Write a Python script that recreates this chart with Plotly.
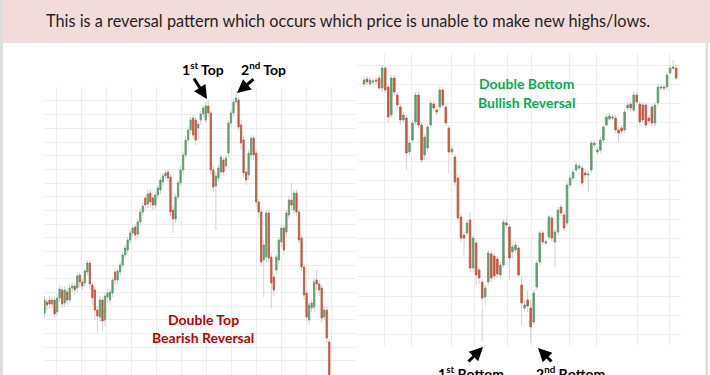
import plotly.graph_objects as go

# ---------------- Left chart: Double Top (price units) ----------------
left_open = [87, 98, 100, 96, 100, 88, 102, 110, 97, 108, 100, 112, 114, 112, 125, 118, 117, 128, 137, 115,
             110, 90, 83, 100, 80, 103, 100, 107, 128, 120, 128, 135, 145, 150, 160, 167, 173, 166, 178, 188,
             202, 196, 207, 202, 195, 205, 210, 218, 224, 228, 223, 190, 181, 203, 217, 230, 245, 260, 270, 282,
             280, 272, 280, 286, 280, 294, 287, 230, 214, 222, 228, 240, 234, 247, 277, 287, 298, 300, 275, 260,
             228, 225, 245, 262, 247, 198, 188, 140, 143, 187, 143, 123, 130, 140, 158, 172, 168, 185, 200, 190,
             207, 188, 162, 133, 107, 80, 92, 93, 120, 116, 112, 83, 90, 58]
left_high = [104, 102, 104, 103, 103, 106, 115, 113, 114, 112, 116, 118, 117, 128, 128, 121, 132, 140, 139, 118,
             113, 94, 104, 103, 108, 111, 111, 123, 132, 132, 138, 148, 156, 163, 170, 175, 176, 181, 192, 197,
             205, 210, 211, 205, 208, 215, 223, 227, 230, 231, 226, 194, 206, 220, 234, 248, 264, 273, 283, 285,
             283, 279, 289, 295, 298, 300, 290, 234, 228, 235, 246, 243, 245, 280, 290, 301, 309, 303, 280, 264,
             232, 250, 265, 265, 250, 201, 191, 160, 190, 190, 147, 127, 146, 163, 175, 175, 190, 204, 217, 210,
             210, 191, 165, 136, 110, 99, 100, 122, 130, 120, 115, 94, 93, 61]
left_low = [82, 90, 91, 92, 82, 84, 98, 92, 93, 95, 97, 108, 105, 108, 113, 110, 113, 124, 110, 95,
            80, 67, 78, 70, 74, 97, 95, 103, 115, 116, 124, 132, 142, 147, 156, 163, 160, 162, 174, 184,
            190, 192, 194, 190, 191, 201, 206, 214, 220, 218, 184, 167, 177, 200, 214, 226, 242, 256, 266, 261,
            255, 260, 275, 282, 277, 283, 225, 208, 170, 218, 224, 224, 230, 243, 273, 283, 295, 269, 250, 222,
            215, 220, 240, 240, 194, 182, 134, 103, 138, 138, 92, 104, 125, 136, 153, 145, 163, 181, 190, 186,
            184, 156, 129, 100, 78, 75, 88, 88, 110, 104, 77, 80, 57, 20]
left_close = [100, 95, 96, 100, 86, 102, 111, 96, 110, 100, 112, 114, 110, 124, 118, 114, 129, 137, 116, 102,
              90, 84, 100, 79, 104, 107, 108, 120, 120, 129, 135, 145, 152, 160, 167, 172, 165, 178, 188, 194,
              195, 206, 198, 195, 205, 212, 220, 224, 227, 222, 188, 181, 203, 217, 230, 245, 260, 270, 280, 265,
              260, 276, 286, 292, 294, 287, 230, 213, 224, 232, 243, 228, 242, 277, 287, 298, 302, 273, 257, 227,
              220, 247, 262, 245, 198, 188, 138, 155, 187, 142, 117, 110, 143, 160, 172, 150, 187, 200, 195, 207,
              188, 160, 133, 105, 83, 95, 97, 118, 116, 110, 82, 90, 62, 25]
left_idx = list(range(len(left_close)))

# ---------------- Right chart: Double Bottom (price units) ----------------
right_open = [316, 321, 316, 318, 320, 322, 312, 332, 313, 285, 322, 305, 293, 280, 282, 248, 260, 278, 305, 275,
              245, 252, 275, 296, 290, 293, 310, 293, 272, 248, 243, 222, 183, 165, 167, 180, 132, 157, 130, 118,
              103, 118, 146, 144, 141, 125, 135, 177, 173, 148, 150, 152, 115, 92, 100, 92, 78, 113, 138, 167,
              157, 163, 182, 158, 168, 193, 185, 177, 215, 222, 230, 232, 232, 227, 225, 230, 255, 248, 250, 260,
              275, 281, 282, 282, 270, 272, 270, 292, 296, 290, 305, 296, 295, 295, 282, 293, 277, 297, 312, 313,
              313, 327, 333, 332]
right_high = [323, 324, 323, 322, 323, 325, 335, 334, 316, 325, 325, 308, 296, 288, 285, 260, 280, 308, 308, 278,
              266, 276, 300, 299, 292, 313, 313, 296, 275, 254, 246, 225, 186, 168, 180, 188, 165, 160, 133, 121,
              115, 150, 149, 147, 144, 138, 181, 182, 176, 156, 158, 155, 123, 100, 110, 100, 110, 140, 170, 170,
              160, 186, 185, 171, 193, 196, 188, 218, 225, 231, 238, 237, 235, 230, 229, 260, 260, 253, 263, 276,
              286, 287, 286, 285, 273, 275, 291, 298, 299, 308, 308, 299, 298, 298, 285, 296, 298, 316, 316, 316,
              328, 335, 340, 335]
right_low = [313, 315, 314, 316, 316, 310, 308, 307, 277, 282, 304, 290, 275, 277, 230, 244, 257, 275, 272, 237,
             240, 248, 272, 290, 285, 290, 292, 274, 227, 245, 215, 179, 158, 145, 164, 128, 128, 115, 116, 58,
             95, 115, 118, 120, 122, 122, 132, 172, 120, 142, 147, 122, 75, 88, 88, 57, 75, 110, 135, 155,
             155, 160, 158, 133, 165, 184, 169, 174, 212, 220, 228, 230, 214, 222, 208, 227, 253, 245, 247, 257,
             273, 279, 280, 267, 258, 266, 267, 290, 289, 288, 295, 275, 277, 272, 276, 274, 274, 294, 310, 309,
             310, 325, 330, 320]
right_close = [320, 318, 320, 319, 319, 312, 332, 310, 283, 322, 308, 295, 280, 285, 247, 257, 277, 305, 275, 240,
               263, 273, 297, 292, 288, 310, 295, 277, 248, 251, 218, 182, 162, 162, 177, 132, 162, 125, 122, 102,
               112, 147, 122, 124, 126, 135, 178, 175, 142, 153, 155, 125, 97, 95, 94, 73, 107, 137, 167, 158,
               158, 183, 162, 168, 190, 187, 172, 215, 222, 228, 235, 234, 217, 225, 226, 257, 257, 250, 260, 273,
               283, 284, 283, 270, 267, 269, 288, 295, 292, 305, 298, 278, 280, 275, 279, 277, 295, 313, 313, 312,
               325, 332, 332, 322]
right_idx = list(range(len(right_close)))
right_grid_ticks = [6.6, 15.8, 29.0, 36.6, 47.5, 55.4, 67.7, 76.6, 90.1, 100.7]

header_text = "This is a reversal pattern which occurs which price is unable to make new highs/lows."

GREEN = "#5f9e6e"
RED = "#c9553f"
WICK = "#d2d2d2"
GRID = "#eeeeee"

W, H = 710, 375


def px_x(px):
    return px / W


def px_y(py):
    return 1 - py / H


fig = go.Figure()


def add_candles(xs, o, h, l, c, xa, ya):
    # wicks (light grey)
    fig.add_trace(go.Candlestick(
        x=xs, open=o, high=h, low=l, close=c, xaxis=xa, yaxis=ya,
        increasing=dict(line=dict(color=WICK, width=1), fillcolor=WICK),
        decreasing=dict(line=dict(color=WICK, width=1), fillcolor=WICK),
        hoverinfo="skip", showlegend=False))
    # coloured bodies
    bt = [max(a, b) for a, b in zip(o, c)]
    bb = [min(a, b) for a, b in zip(o, c)]
    fig.add_trace(go.Candlestick(
        x=xs, open=o, high=bt, low=bb, close=c, xaxis=xa, yaxis=ya,
        increasing=dict(line=dict(color=GREEN, width=0.8), fillcolor=GREEN),
        decreasing=dict(line=dict(color=RED, width=0.8), fillcolor=RED),
        showlegend=False))


add_candles(left_idx, left_open, left_high, left_low, left_close, "x", "y")
add_candles(right_idx, right_open, right_high, right_low, right_close, "x2", "y2")

ax_common = dict(showticklabels=False, zeroline=False, showline=False, ticks="",
                 gridcolor=GRID, gridwidth=1, fixedrange=True)

# left axes: plot area x 44..356 px, y 87..375 px
ls = 2.52
fig.update_layout(
    xaxis=dict(domain=[px_x(44), px_x(356)], range=[-0.2, (356 - 44) / ls - 0.2],
               tick0=(56 - 44) / ls - 0.2, dtick=25 / ls, rangeslider=dict(visible=False), **ax_common),
    yaxis=dict(domain=[0, px_y(87)], range=[25, 313], tick0=312.7, dtick=13.68, **ax_common),
    xaxis2=dict(domain=[px_x(358), px_x(681)], range=[-1.98, 104.6], tickmode="array",
                tickvals=right_grid_ticks, rangeslider=dict(visible=False), anchor="y2", **ax_common),
    yaxis2=dict(domain=[px_y(346), px_y(53)], range=[54, 347], tick0=315.7, dtick=19.25,
                anchor="x2", **ax_common),
)

shapes = [
    dict(type="rect", xref="paper", yref="paper", x0=0, x1=1, y0=px_y(43), y1=1,
         fillcolor="#f2dcdb", line=dict(width=0), layer="below"),
    dict(type="rect", xref="paper", yref="paper", x0=0, x1=px_x(3), y0=0, y1=1,
         fillcolor="#dedede", line=dict(width=0)),
    dict(type="rect", xref="paper", yref="paper", x0=px_x(705.5), x1=px_x(708), y0=0, y1=px_y(43),
         fillcolor="#dcdcdc", line=dict(width=0)),
]

FONT = "Lato, 'Open Sans', Arial, sans-serif"
ann = []
ann.append(dict(text=header_text, x=px_x(347.5), y=px_y(20), xref="paper", yref="paper",
                xanchor="center", yanchor="middle",
                showarrow=False, font=dict(family=FONT, size=16.3, color="#1f1f1f")))


def label(text, cx, cy, color, size=14):
    ann.append(dict(text="<b>" + text + "</b>", x=px_x(cx), y=px_y(cy), xref="paper", yref="paper",
                    xanchor="center", yanchor="middle",
                    showarrow=False, font=dict(family=FONT, size=size, color=color)))


def arrow(hx, hy, tx, ty):
    ann.append(dict(text="", x=px_x(hx), y=px_y(hy), xref="paper", yref="paper",
                    ax=tx - hx, ay=ty - hy, axref="pixel", ayref="pixel", showarrow=True,
                    arrowhead=2, arrowsize=0.9, arrowwidth=3, arrowcolor="#000000", standoff=0))


label("1<sup>st</sup> Top", 203, 69, "#000000")
label("2<sup>nd</sup> Top", 263, 69, "#000000")
arrow(207, 99, 193, 77)
arrow(237, 93, 255, 78)

label("Double Top", 203, 319, "#c00000")
label("Bearish Reversal", 203, 337, "#c00000")

label("Double Bottom", 526, 83, "#00b050")
label("Bullish Reversal", 526, 102, "#00b050")

label("1<sup>st</sup> Bottom", 471, 372, "#000000")
label("2<sup>nd</sup> Bottom", 570, 372, "#000000")
arrow(483, 347, 467, 363)
arrow(538, 348, 553, 363)

fig.update_layout(
    width=W, height=H, margin=dict(l=0, r=0, t=0, b=0),
    paper_bgcolor="#ffffff", plot_bgcolor="#ffffff",
    showlegend=False, shapes=shapes, annotations=ann, boxgap=0.3,
)

fig.write_html("out.html", config={"displayModeBar": False},
               post_script="document.body.style.margin='0';document.body.style.overflow='hidden';")
